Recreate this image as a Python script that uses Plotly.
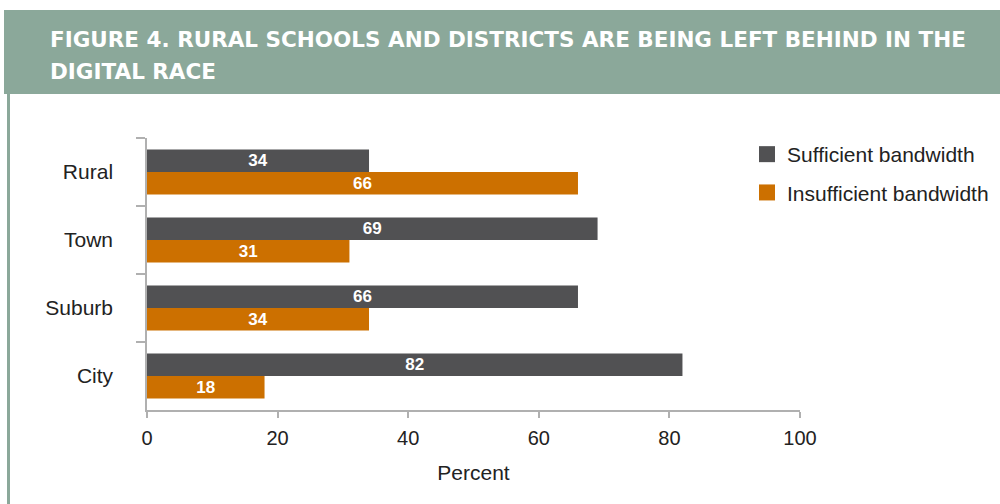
import plotly.graph_objects as go

categories = ["Rural", "Town", "Suburb", "City"]
sufficient = [34, 69, 66, 82]
insufficient = [66, 31, 34, 18]
series_names = ["Sufficient bandwidth", "Insufficient bandwidth"]
x_ticks = [0, 20, 40, 60, 80, 100]
title_lines = ["FIGURE 4. RURAL SCHOOLS AND DISTRICTS ARE BEING LEFT BEHIND IN THE",
               "DIGITAL RACE"]

DARK = "#515153"
ORANGE = "#cc7000"
HEADER = "#8ba89a"

L, R, T, B = 147, 800, 138, 410
W, H = 1000, 504
pw, ph = R - L, B - T

def px(x):
    return (x - L) / pw

def py(y):
    return (B - y) / ph

fig = go.Figure()
for name, vals, col in [(series_names[0], sufficient, DARK),
                        (series_names[1], insufficient, ORANGE)]:
    fig.add_trace(go.Bar(
        y=categories, x=vals, orientation="h", name=name, showlegend=False,
        marker=dict(color=col, line=dict(width=0)),
        text=[str(v) for v in vals], textposition="inside", textangle=0,
        insidetextanchor="middle", constraintext="none",
        textfont=dict(color="white", size=17, family="Liberation Sans, Arial", weight="bold"),
    ))

# legend entries (square markers)
for name, col, grp in [(series_names[0], DARK, "a"), (series_names[1], ORANGE, "b")]:
    fig.add_trace(go.Scatter(
        x=[None], y=[None], mode="markers", name=name, legendgroup=grp,
        marker=dict(symbol="square", size=17, color=col),
    ))

fig.update_layout(
    width=W, height=H,
    margin=dict(l=L, r=W - R, t=T, b=H - B, autoexpand=False),
    paper_bgcolor="white", plot_bgcolor="white",
    barmode="group", bargap=0.34, bargroupgap=0,
    font=dict(family="Liberation Sans, Arial", size=21, color="#222222"),
    showlegend=True,
    legend=dict(
        x=px(747), y=py(134), xanchor="left", yanchor="top",
        traceorder="grouped", tracegroupgap=8,
        font=dict(size=21, color="#222222"),
        bgcolor="rgba(0,0,0,0)", itemsizing="trace",
    ),
    xaxis=dict(
        range=[0, 100], tickvals=x_ticks, showgrid=False, zeroline=False,
        showline=True, linecolor="#b0b0b0", linewidth=1.5,
        ticks="outside", ticklen=6, tickcolor="#b0b0b0", tickwidth=1.5,
        tickfont=dict(size=20, color="#222222"),
        ticklabelstandoff=3,
        title=dict(text="Percent", font=dict(size=21, color="#222222"), standoff=18),
    ),
    yaxis=dict(
        autorange="reversed", showgrid=False, zeroline=False,
        showline=True, linecolor="#b0b0b0", linewidth=1.5,
        ticks="outside", ticklen=9, tickcolor="#b0b0b0", tickwidth=1.5,
        tickson="boundaries",
        tickfont=dict(size=21, color="#222222"),
        ticklabelstandoff=28,
    ),
    shapes=[
        dict(type="rect", xref="paper", yref="paper",
             x0=px(4), x1=px(1010), y0=py(94), y1=py(10),
             fillcolor=HEADER, line=dict(width=0), layer="below"),
        dict(type="rect", xref="paper", yref="paper",
             x0=px(7), x1=px(10), y0=py(520), y1=py(93),
             fillcolor=HEADER, line=dict(width=0), layer="below"),
    ],
    annotations=[
        dict(text=line, xref="paper", yref="paper",
             x=px(48), y=py(yc), xanchor="left", yanchor="middle",
             align="left", showarrow=False,
             font=dict(family="DejaVu Sans", size=21.5, color="white", weight="bold"))
        for line, yc in zip(title_lines, [40, 71])
    ],
)

fig.write_html("out.html")
